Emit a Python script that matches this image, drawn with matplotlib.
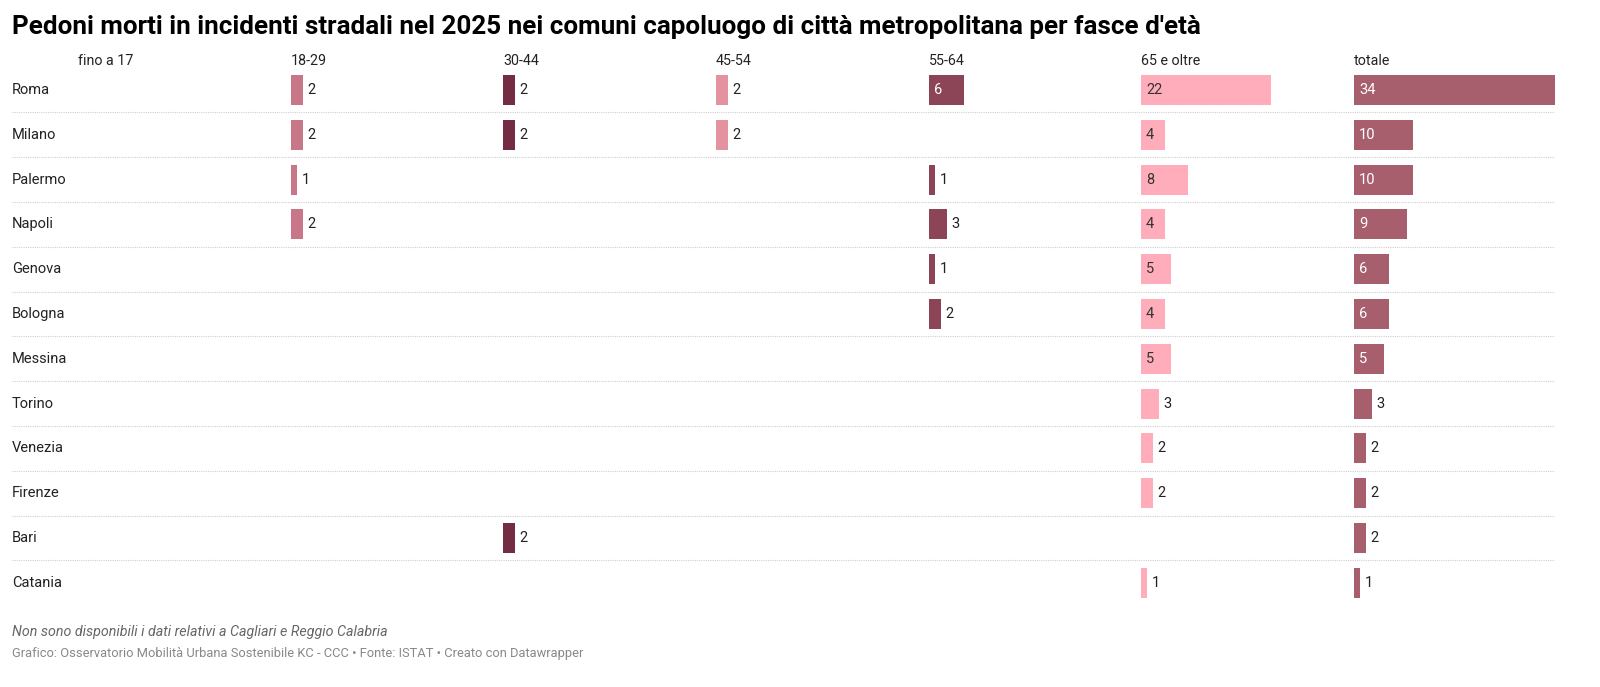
import numpy as np
import matplotlib.pyplot as plt

plt.rcParams['font.family'] = ['Roboto', 'DejaVu Sans']

cities = ['Roma', 'Milano', 'Palermo', 'Napoli', 'Genova', 'Bologna', 'Messina',
          'Torino', 'Venezia', 'Firenze', 'Bari', 'Catania']
groups = ['fino a 17', '18-29', '30-44', '45-54', '55-64', '65 e oltre', 'totale']

fino_17 = [0, 0, 0, 0, 0, 0, 0, 0, 0, 0, 0, 0]
eta_18_29 = [2, 2, 1, 2, 0, 0, 0, 0, 0, 0, 0, 0]
eta_30_44 = [2, 2, 0, 0, 0, 0, 0, 0, 0, 0, 2, 0]
eta_45_54 = [2, 2, 0, 0, 0, 0, 0, 0, 0, 0, 0, 0]
eta_55_64 = [6, 0, 1, 3, 1, 2, 0, 0, 0, 0, 0, 0]
oltre_65 = [22, 4, 8, 4, 5, 4, 5, 3, 2, 2, 0, 1]
totale = [34, 10, 10, 9, 6, 6, 5, 3, 2, 2, 2, 1]

series = [fino_17, eta_18_29, eta_30_44, eta_45_54, eta_55_64, oltre_65, totale]
colors = ['#d98a99', '#c77787', '#742c42', '#e3939f', '#8c4457', '#ffadbb', '#a85f6d']
inside_text = ['white', 'white', 'white', '#333333', 'white', '#333333', 'white']

W, H = 1600, 687
fig = plt.figure(figsize=(W / 100, H / 100), dpi=100)

def fx(x):
    return x / W

def fy(y):
    return 1 - y / H

row_step = 44.8
top = 90 - row_step / 2
bottom = top + row_step * len(cities)
n = len(cities)

# sfondo: etichette delle righe e separatori
bg = fig.add_axes([fx(12), fy(bottom), fx(1555) - fx(12), fy(top) - fy(bottom)])
bg.set_xlim(0, 1)
bg.set_ylim(n - 0.5, -0.5)
bg.axis('off')
for i in range(n - 1):
    bg.axhline(i + 0.5, color='#cfcfcf', lw=0.8, ls=(0, (1, 1)))
for i, c in enumerate(cities):
    bg.text(0, i, c, ha='left', va='center', fontsize=10.5, color='#222222')

col_left = [78, 291, 503, 716, 929, 1141, 1354]
col_w = 201
xmax = 34
for k, (g, vals) in enumerate(zip(groups, series)):
    ax = fig.add_axes([fx(col_left[k]), fy(bottom), col_w / W, fy(top) - fy(bottom)])
    ax.set_xlim(0, xmax)
    ax.set_ylim(n - 0.5, -0.5)
    ax.axis('off')
    ax.patch.set_alpha(0)
    y = np.arange(n)
    v = np.array(vals)
    mask = v > 0
    ax.barh(y[mask], v[mask], height=30 / row_step, color=colors[k], left=0)
    pu = xmax / col_w  # unità per pixel
    for yi, vi in zip(y[mask], v[mask]):
        if vi >= 4:
            ax.text(5 * pu, yi, str(vi), ha='left', va='center', fontsize=10.5,
                    color=inside_text[k])
        else:
            ax.text(vi + 5 * pu, yi, str(vi), ha='left', va='center', fontsize=10.5,
                    color='#222222')
    fig.text(fx(col_left[k]), fy(61), g, ha='left', va='center', fontsize=10.3,
             color='#222222')

fig.text(fx(12), fy(27), "Pedoni morti in incidenti stradali nel 2025 nei comuni capoluogo di città metropolitana per fasce d'età",
         ha='left', va='center', fontsize=18.7, fontweight='bold', color='#000000')
fig.text(fx(12), fy(632), "Non sono disponibili i dati relativi a Cagliari e Reggio Calabria",
         ha='left', va='center', fontsize=10.25, style='italic', color='#666666')
fig.text(fx(12), fy(653), "Grafico: Osservatorio Mobilità Urbana Sostenibile KC - CCC • Fonte: ISTAT • Creato con Datawrapper",
         ha='left', va='center', fontsize=9.3, color='#888888')

fig.savefig('out.png', dpi=100, facecolor='white')
